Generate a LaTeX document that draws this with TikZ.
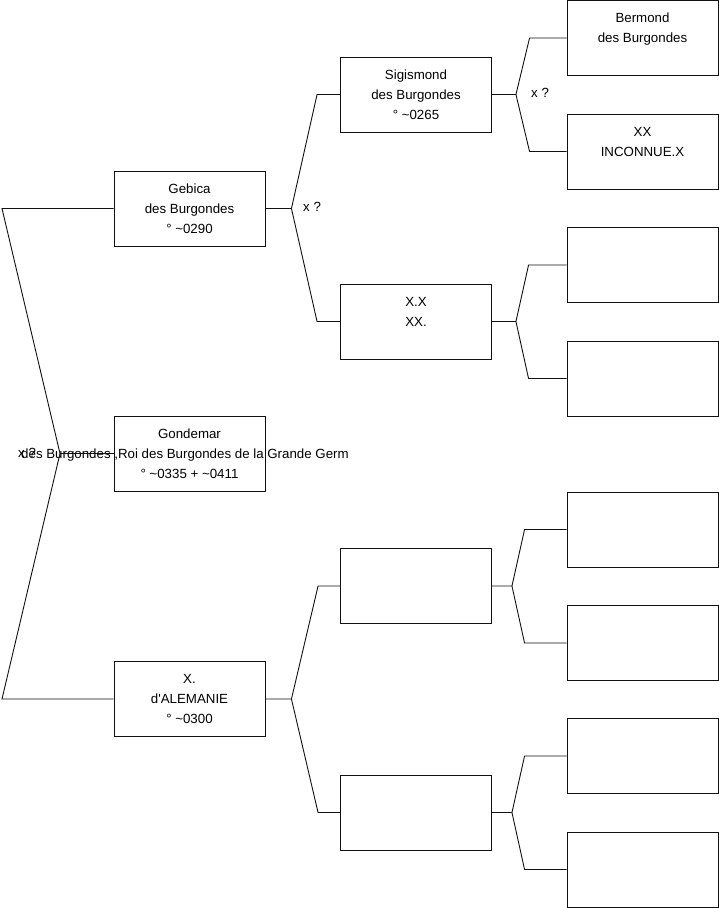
\documentclass[tikz,border=0pt]{standalone}
\usepackage{fontspec}
\setmainfont{Liberation Sans}
\usetikzlibrary{
    positioning,
    calc
}
\definecolor{Trait}{HTML}{111111}

\tikzset{
    personne/.style={
        draw=Trait,
        line width=0.9pt,
        minimum width=151pt,
        minimum height=75pt,
        inner sep=0pt,
        align=center,
        font=\fontsize{13.3}{20}\selectfont
    },
    lien/.style={
        draw=Trait,
        line width=0.9pt
    },
    mention/.style={
        anchor=west,
        inner sep=0pt,
        font=\fontsize{13.3}{16}\selectfont
    }
}

% fourche : parent, enfant haut, enfant bas, ecart fourche, ecart fin
\newcommand{\fourche}[5]{
    \draw[lien] (#1.east) -- ++(#4,0) coordinate (#1-f)
        -- ([xshift=-#5pt]#2.west) -- (#2.west);
    \draw[lien] (#1-f) -- ([xshift=-#5pt]#3.west) -- (#3.west);
}

\begin{document}
\begin{tikzpicture}[x=1pt,y=-1pt]

    \useasboundingbox (0,0) rectangle (719,908);

    % generation 1
    \node[personne] (gebica) at (189.5,208.5) {Gebica\\des Burgondes\\° \textasciitilde0290};
    \node[personne] (gondemar) at (189.5,453.5) {
        Gondemar\\
        \makebox[0pt]{\hspace*{-9pt}des Burgondes ,Roi des Burgondes de la Grande Germ}\\
        ° \textasciitilde0335 + \textasciitilde0411
    };
    \node[personne] (alemanie) at (189.5,699) {X.\\d\textquotesingle ALEMANIE\\° \textasciitilde0300};

    % generation 2
    \node[personne] (sigismond) at (416,94.5) {Sigismond\\des Burgondes\\° \textasciitilde0265};
    \node[personne] (xx) at (416,321.5) {X.X\\XX.\\\mbox{}};
    \node[personne] (vide21) at (416,586) {};
    \node[personne] (vide22) at (416,812.5) {};

    % generation 3
    \node[personne] (bermond) at (642.5,38) {Bermond\\des Burgondes\\\mbox{}};
    \node[personne] (inconnue) at (642.5,151.5) {XX\\INCONNUE.X\\\mbox{}};
    \node[personne] (vide31) at (642.5,265) {};
    \node[personne] (vide32) at (642.5,378.5) {};
    \node[personne] (vide33) at (642.5,529.5) {};
    \node[personne] (vide34) at (642.5,643) {};
    \node[personne] (vide35) at (642.5,756) {};
    \node[personne] (vide36) at (642.5,869.5) {};

    % racine
    \coordinate (haut) at (2,208.5);
    \coordinate (racine) at (60,453.5);
    \coordinate (bas) at (2,699);
    \draw[lien] (gebica.west) -- (haut) -- (racine) -- (bas) -- (alemanie.west);
    \draw[lien] (racine) -- (gondemar.west);

    % fourches
    \fourche{gebica}{sigismond}{xx}{26}{23}
    \fourche{alemanie}{vide21}{vide22}{26}{22}
    \fourche{sigismond}{bermond}{inconnue}{24}{37}
    \fourche{xx}{vide31}{vide32}{24}{38}
    \fourche{vide21}{vide33}{vide34}{20}{42}
    \fourche{vide22}{vide35}{vide36}{20}{42}

    \node[mention] (xracine) at (18,453) {x ?};
    \node[mention] (xgebica) at (303,207) {x ?};
    \node[mention] (xsigismond) at (531,93) {x ?};

\end{tikzpicture}
\end{document}
